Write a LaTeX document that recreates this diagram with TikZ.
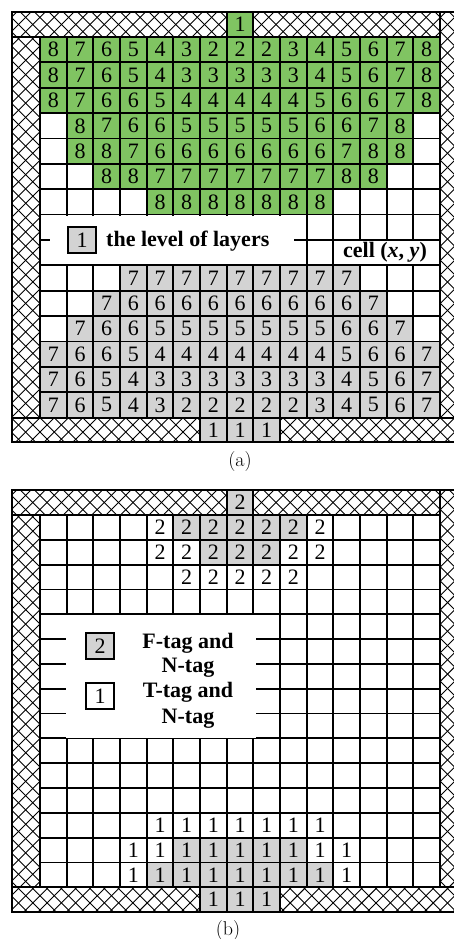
\documentclass[tikz,border=0pt]{standalone}
\usepackage{fontspec}
\newfontfamily\tnr{Liberation Serif}
\definecolor{cellgreen}{RGB}{128,196,98}
\definecolor{cellgray}{RGB}{211,211,211}
\tikzset{
  gridline/.style={line width=1.8pt, black},
  frameline/.style={line width=2pt, black},
  hatchline/.style={line width=0.9pt, black},
  numtext/.style={font=\tnr\fontsize{22}{24}\selectfont, inner sep=0pt},
  legendtext/.style={font=\tnr\bfseries\fontsize{22}{25}\selectfont, inner sep=0pt},
  keybox/.style={draw, line width=1.8pt, minimum width=28pt, minimum height=25.5pt, inner sep=0pt, font=\tnr\fontsize{22}{24}\selectfont},
  caplabel/.style={font=\fontsize{20}{22}\selectfont, inner sep=0pt},
}
\newcommand\cellrows[4]{%
  \foreach \row [count=\rr from #1] in {#4}{%
    \foreach \v [count=\c] in \row {%
      \ifnum\v>0
        \fill[#2] (\c-1,\rr-1) rectangle (\c,\rr);
        \node[numtext] (#3-\rr-\c) at (\c-0.5,\rr-0.5) {\v};
      \fi
    }%
  }%
}
\newcommand\gridlines{%
  \foreach \i in {0,...,15} {\draw[gridline] (\i,0) -- (\i,15);}
  \foreach \j in {0,...,15} {\draw[gridline] (0,\j) -- (15,\j);}
}
% hatch: #1 top of frame, #2 bottom of grid, #3 bottom of frame, #4 crossing row y
\newcommand\hatchframe[4]{%
  \begin{scope}
    \clip (12,#1) rectangle (226.67,#1+25) (253.33,#1) rectangle (440,#1+25)
          (12,#1+25) rectangle (40,#2) (440,#1) rectangle (454,#2)
          (12,#2) rectangle (200,#3) (280,#2) rectangle (454,#3);
    \foreach \k in {-50,...,50} {
      \draw[hatchline] (233+\k*14.3-460,#4-460) -- (233+\k*14.3+460,#4+460);
      \draw[hatchline] (233+\k*14.3-460,#4+460) -- (233+\k*14.3+460,#4-460);
    }
  \end{scope}
  \draw[frameline] (454,#1) -- (12,#1) -- (12,#3) -- (454,#3);
  \draw[frameline] (12,#1+25) -- (40,#1+25);
  \draw[frameline] (440,#1) -- (440,#2);
  \draw[frameline] (12,#2) -- (454,#2);
  \draw[frameline] (40,#1+25) -- (40,#2);
  \foreach \x in {226.67,253.33} {\draw[frameline] (\x,#1) -- (\x,#1+25);}
  \foreach \x in {200,226.67,253.33,280} {\draw[frameline] (\x,#2) -- (\x,#3);}
}
\begin{document}
\begin{tikzpicture}[x=1pt,y=-1pt]
\useasboundingbox (0,0) rectangle (454,939);
\fill[white] (0,0) rectangle (454,939);

% ================= Panel (a) =================
\fill[cellgreen] (226.67,12) rectangle (253.33,37);
\node[numtext] (atop) at (240,24.5) {1};
\foreach \x [count=\i] in {200,226.67,253.33} {
  \fill[cellgray] (\x,417.6) rectangle (\x+26.67,442);
  \node[numtext] (abot\i) at (\x+13.33,429.8) {1};
}
\begin{scope}[shift={(40,37)}, x=26.667pt, y=-25.37pt]
  \cellrows{1}{cellgreen}{ag}{
    {8,7,6,5,4,3,2,2,2,3,4,5,6,7,8},
    {8,7,6,5,4,3,3,3,3,3,4,5,6,7,8},
    {8,7,6,6,5,4,4,4,4,4,5,6,6,7,8},
    {0,8,7,6,6,5,5,5,5,5,6,6,7,8,0},
    {0,8,8,7,6,6,6,6,6,6,6,7,8,8,0},
    {0,0,8,8,7,7,7,7,7,7,7,8,8,0,0},
    {0,0,0,0,8,8,8,8,8,8,8,0,0,0,0}}
  \cellrows{10}{cellgray}{ay}{
    {0,0,0,7,7,7,7,7,7,7,7,7,0,0,0},
    {0,0,7,6,6,6,6,6,6,6,6,6,7,0,0},
    {0,7,6,6,5,5,5,5,5,5,5,6,6,7,0},
    {7,6,6,5,4,4,4,4,4,4,4,5,6,6,7},
    {7,6,5,4,3,3,3,3,3,3,3,4,5,6,7},
    {7,6,5,4,3,2,2,2,2,2,3,4,5,6,7}}
  \gridlines
\end{scope}
\hatchframe{12}{417.6}{442}{24.5}

% legend (a)
\fill[white] (50,215.8) rectangle (294,264.3);
\node[keybox, fill=cellgray] (akey) at (82,240) {1};
\node[legendtext, anchor=base west] (atext) at (106,246) {the level of layers};
\fill[white] (334.3,240.9) rectangle (439.1,264.3);
\node[legendtext, anchor=base] (acell) at (385,257) {cell (\textit{x}, \textit{y})};

\node[caplabel] (alabel) at (240,462) {(a)};

% ================= Panel (b) =================
\fill[cellgray] (226.67,490) rectangle (253.33,515);
\node[numtext] (btop) at (240,502.5) {2};
\foreach \x [count=\i] in {200,226.67,253.33} {
  \fill[cellgray] (\x,887.3) rectangle (\x+26.67,911.7);
  \node[numtext] (bbot\i) at (\x+13.33,899.5) {1};
}
\begin{scope}[shift={(40,515)}, x=26.667pt, y=-24.82pt]
  \foreach \c in {6,...,10} {\fill[cellgray] (\c-1,0) rectangle (\c,1);}
  \foreach \c in {7,...,9} {\fill[cellgray] (\c-1,1) rectangle (\c,2);}
  \foreach \c in {6,...,10} {\fill[cellgray] (\c-1,13) rectangle (\c,14);}
  \foreach \c in {5,...,11} {\fill[cellgray] (\c-1,14) rectangle (\c,15);}
  \foreach \c in {5,...,11} {\node[numtext] (b-1-\c) at (\c-0.5,0.5) {2};}
  \foreach \c in {5,...,11} {\node[numtext] (b-2-\c) at (\c-0.5,1.5) {2};}
  \foreach \c in {6,...,10} {\node[numtext] (b-3-\c) at (\c-0.5,2.5) {2};}
  \foreach \c in {5,...,11} {\node[numtext] (b-13-\c) at (\c-0.5,12.5) {1};}
  \foreach \c in {4,...,12} {\node[numtext] (b-14-\c) at (\c-0.5,13.5) {1};}
  \foreach \c in {4,...,12} {\node[numtext] (b-15-\c) at (\c-0.5,14.5) {1};}
  \gridlines
\end{scope}
\hatchframe{490}{887.3}{911.7}{502.5}

% legend (b)
\fill[white] (66.3,615.2) rectangle (256,737.5);
\node[keybox, fill=cellgray] (bkey2) at (100,646) {2};
\node[keybox, fill=white] (bkey1) at (100,696) {1};
\node[legendtext, anchor=base] (bt1) at (188,648) {F-tag and};
\node[legendtext, anchor=base] (bt2) at (188,672) {N-tag};
\node[legendtext, anchor=base] (bt3) at (188,697) {T-tag and};
\node[legendtext, anchor=base] (bt4) at (188,723) {N-tag};

\node[caplabel] (blabel) at (228,930) {(b)};
\end{tikzpicture}
\end{document}
